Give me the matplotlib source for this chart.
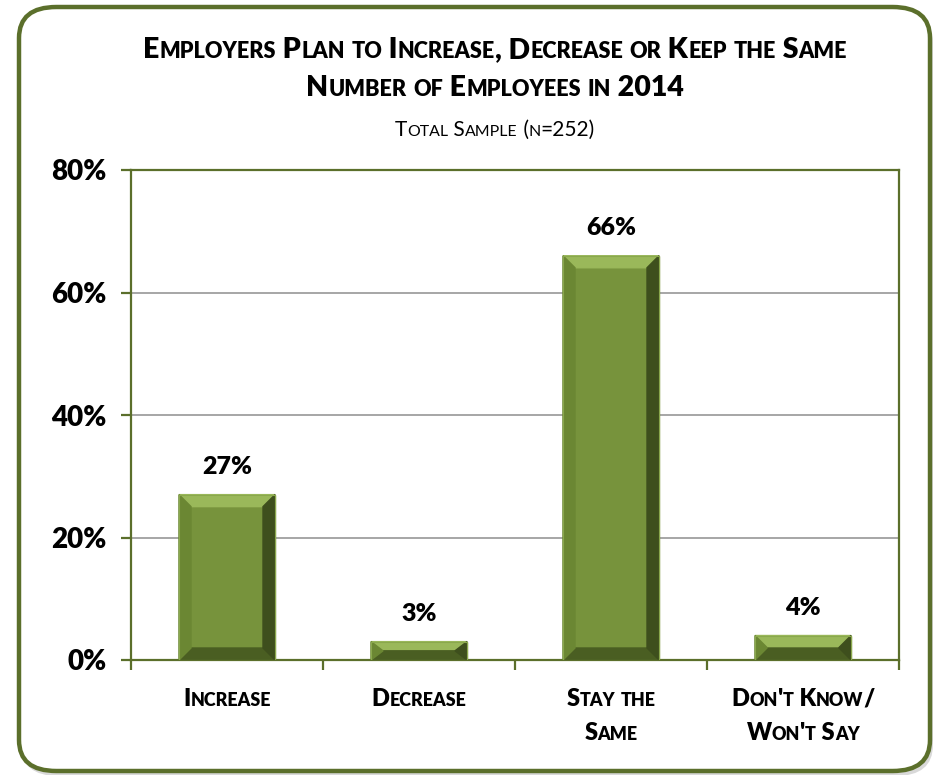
import matplotlib
matplotlib.use("Agg")
import matplotlib.pyplot as plt
import numpy as np
from matplotlib.offsetbox import AnnotationBbox, HPacker, TextArea, VPacker
from matplotlib.patches import FancyBboxPatch

plt.rcParams["font.family"] = ["Lato", "DejaVu Sans"]

categories = ["Increase", "Decrease", "Stay the\nSame", "Don't Know/\nWon't Say"]
values = [27, 3, 66, 4]
y_ticks = [0, 20, 40, 60, 80]

title_lines = ["Employers Plan to Increase, Decrease or Keep the Same",
               "Number of Employees in 2014"]
subtitle = "Total Sample (n=252)"

GREEN_EDGE = "#5b6f2b"
BAR_MID = "#77933c"
BAR_TOP = "#9ab85a"
BAR_LEFT = "#6b8733"
BAR_RIGHT = "#3e4f1d"
BAR_BOTTOM = "#4a5e22"
HEAVY = "heavy"


def small_caps(text, size, weight=HEAVY, ratio=0.76, color="black"):
    """Build an HPacker that fakes small caps: lowercase runs are uppercased and shrunk."""
    runs = []
    cur, cur_low = "", None
    for ch in text:
        low = ch.islower()
        if cur_low is None or low == cur_low:
            cur += ch
        else:
            runs.append((cur, cur_low))
            cur = ch
        cur_low = low
    if cur:
        runs.append((cur, cur_low))
    parts = []
    for s, low in runs:
        fs = size * ratio if low else size
        parts.append(TextArea(s.upper(), textprops=dict(fontsize=fs, fontweight=weight, color=color)))
    return HPacker(children=parts, align="baseline", pad=0, sep=0)


fig = plt.figure(figsize=(9.36, 7.75), dpi=100)

# outer rounded frame with a soft shadow
shadow = FancyBboxPatch((21 / 936, 1 - 776 / 775), 912 / 936, 764 / 775,
                        boxstyle="round,pad=0,rounding_size=0.04", transform=fig.transFigure,
                        facecolor="#d9d9d9", edgecolor="none", zorder=0)
frame = FancyBboxPatch((19 / 936, 1 - 771 / 775), 911 / 936, 764 / 775,
                       boxstyle="round,pad=0,rounding_size=0.04", transform=fig.transFigure,
                       facecolor="white", edgecolor=GREEN_EDGE, linewidth=3.2, zorder=1)
fig.patches.extend([shadow, frame])

ax = fig.add_axes([131 / 936, 1 - 660 / 775, 768 / 936, 490 / 775])
ax.set_zorder(2)
ax.patch.set_alpha(0)
ax.set_xlim(-0.5, len(categories) - 0.5)
ax.set_ylim(0, 80)

for s in ax.spines.values():
    s.set_color(GREEN_EDGE)
    s.set_linewidth(1.6)

ax.set_yticks(y_ticks)
ax.set_yticklabels([f"{v}%" for v in y_ticks], fontsize=20, fontweight=HEAVY)
ax.tick_params(axis="y", length=7, width=1.6, color=GREEN_EDGE, pad=10.5)
ax.set_xticks(np.arange(-0.5, len(categories), 1.0))
ax.set_xticklabels([])
ax.tick_params(axis="x", length=7, width=1.6, color=GREEN_EDGE, direction="out")
for v in y_ticks[1:-1]:
    ax.axhline(v, color="#a6a6a6", linewidth=1.4, zorder=1)

# bevelled bars
width = 0.5
bev_x = 12 / (768 / 4)
bev_y = 12 / (490 / 80)
for i, v in enumerate(values):
    x0, x1 = i - width / 2, i + width / 2
    by = min(bev_y, v / 2)
    ax.fill([x0, x1, x1, x0], [0, 0, v, v], color=BAR_MID, zorder=3)
    ax.fill([x0, x1, x1 - bev_x, x0 + bev_x], [v, v, v - by, v - by], color=BAR_TOP, zorder=4)
    ax.fill([x0, x1, x1 - bev_x, x0 + bev_x], [0, 0, by, by], color=BAR_BOTTOM, zorder=4)
    ax.fill([x0, x0 + bev_x, x0 + bev_x, x0], [0, by, v - by, v], color=BAR_LEFT, zorder=4)
    ax.fill([x1, x1 - bev_x, x1 - bev_x, x1], [0, by, v - by, v], color=BAR_RIGHT, zorder=4)
    ax.plot([x0, x1, x1, x0, x0], [0, 0, v, v, 0], color="#8aa84d", linewidth=0.8, zorder=5)
    ax.annotate(f"{v}%", (i, v), xytext=(0, 12), textcoords="offset points",
                ha="center", va="bottom", fontsize=18, fontweight=HEAVY, zorder=6)

# category labels in small caps
for i, lab in enumerate(categories):
    lines = [small_caps(t, 17) for t in lab.split("\n")]
    box = VPacker(children=lines, align="center", pad=0, sep=9)
    ab = AnnotationBbox(box, (i, 0), xycoords=("data", "axes fraction"), xybox=(0, -20),
                        boxcoords="offset points", box_alignment=(0.5, 1), frameon=False, pad=0)
    ax.add_artist(ab)

# title block
title_y = [63, 101]
for t, y in zip(title_lines, title_y):
    ab = AnnotationBbox(small_caps(t, 20.5), (495 / 936, 1 - y / 775), xycoords="figure fraction",
                        box_alignment=(0.5, 0), frameon=False, pad=0)
    fig.add_artist(ab)
ab = AnnotationBbox(small_caps(subtitle, 15, weight="normal"), (495 / 936, 1 - 140 / 775),
                    xycoords="figure fraction", box_alignment=(0.5, 0), frameon=False, pad=0)
fig.add_artist(ab)

fig.savefig("out.png", dpi=100)
